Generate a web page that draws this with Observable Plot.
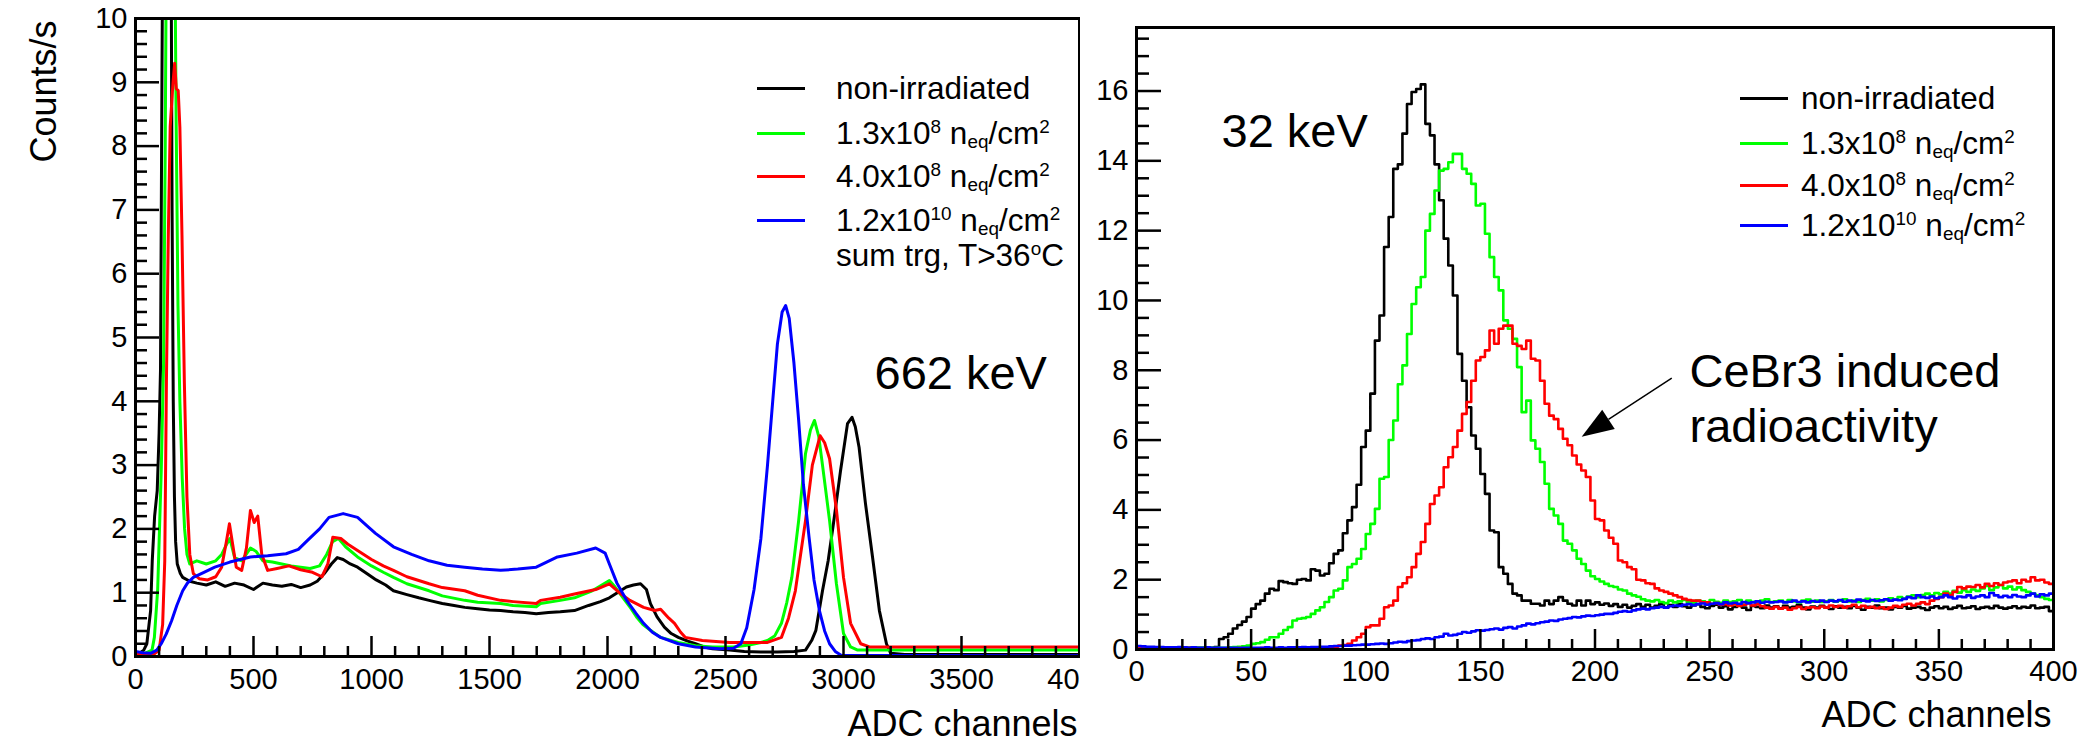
<!DOCTYPE html>
<html>
<head>
<meta charset="utf-8">
<script src="https://cdn.jsdelivr.net/npm/d3@7"></script>
<script src="https://cdn.jsdelivr.net/npm/@observablehq/plot@0.6"></script>
<style>
  html, body { margin: 0; padding: 0; background: #fff; }
  #wrap { position: relative; width: 2082px; height: 754px; overflow: hidden; background: #fff;
          font-family: "Liberation Sans", Arial, Helvetica, sans-serif; color: #000; }
  #left, #right { position: absolute; top: 0; }
  #left { left: 0; width: 1082px; }
  #right { left: 1080px; width: 1002px; }
  #left svg, #right svg { display: block; max-width: none; }
  .lg { position: absolute; font-size: 31.5px; line-height: 30px; white-space: nowrap; }
  .sw { position: absolute; height: 3px; width: 48px; }
  .sup { font-size: 0.6em; position: relative; top: -0.58em; }
  .sub { font-size: 0.6em; position: relative; top: 0.2em; }
</style>
</head>
<body>
<div id="wrap"><div id="left"></div><div id="right"></div><div id="legends"></div></div>
<script>
// ================= DATA =================
const seriesNames = ["non-irradiated", "1.3x10^8", "4.0x10^8", "1.2x10^10"];
const fluenceMantissa = [null, "1.3", "4.0", "1.2"];
const fluenceExponent = [null, "8", "8", "10"];
const seriesColors = ["#000000", "#00ff00", "#ff0000", "#0000ff"];

// ---- Left panel (662 keV): [ADC channel, counts/s] ----
const black662 = [[0,0.06],[20,0.06],[35,0.1],[48,0.2],[64,0.72],[71,1.5],[81,2.2],[92,2.6],[100,3.5],[106,4.5],[112,9],[118,13],[128,15],[140,15],[150,12],[155,7],[160,4],[165,2.5],[170,1.8],[177,1.45],[190,1.3],[200,1.24],[230,1.18],[260,1.15],[300,1.12],[340,1.17],[380,1.1],[420,1.15],[460,1.12],[500,1.05],[540,1.15],[580,1.12],[620,1.1],[660,1.13],[700,1.08],[740,1.12],[770,1.18],[800,1.3],[830,1.45],[855,1.55],[880,1.52],[910,1.45],[941,1.4],[980,1.3],[1020,1.2],[1060,1.12],[1093,1.03],[1150,0.97],[1200,0.92],[1244,0.88],[1300,0.83],[1350,0.8],[1395,0.77],[1450,0.75],[1500,0.73],[1547,0.72],[1600,0.7],[1650,0.69],[1698,0.67],[1750,0.69],[1800,0.7],[1860,0.72],[1920,0.8],[1970,0.86],[2008,0.92],[2050,1.02],[2080,1.09],[2110,1.12],[2140,1.14],[2165,1.05],[2182,0.83],[2210,0.62],[2241,0.46],[2270,0.36],[2300,0.3],[2340,0.24],[2373,0.2],[2410,0.15],[2445,0.12],[2517,0.1],[2580,0.08],[2650,0.07],[2720,0.07],[2790,0.08],[2839,0.1],[2865,0.25],[2883,0.41],[2911,1.03],[2935,1.5],[2958,2.1],[2987,2.9],[3017,3.65],[3036,3.75],[3050,3.6],[3066,3.28],[3093,2.4],[3123,1.56],[3152,0.72],[3182,0.2],[3200,0.05],[3260,0.03],[4000,0.03]];
const green662 = [[0,0.05],[40,0.05],[70,0.1],[80,0.3],[94,1.05],[109,2.9],[119,4.6],[126,8],[132,12],[150,15],[165,12],[172,8.5],[180,5.5],[188,4.0],[198,2.8],[208,2.0],[218,1.6],[230,1.45],[260,1.5],[300,1.45],[340,1.5],[365,1.6],[385,1.75],[400,1.85],[420,1.55],[450,1.5],[487,1.7],[510,1.65],[540,1.5],[580,1.48],[620,1.45],[660,1.42],[700,1.4],[740,1.38],[780,1.42],[810,1.6],[835,1.8],[860,1.85],[890,1.72],[941,1.56],[1000,1.42],[1050,1.32],[1093,1.24],[1150,1.14],[1244,1.03],[1300,0.95],[1395,0.88],[1450,0.85],[1547,0.83],[1600,0.8],[1698,0.78],[1716,0.83],[1800,0.88],[1860,0.92],[1930,1.02],[2008,1.19],[2030,1.1],[2066,0.92],[2100,0.75],[2123,0.62],[2150,0.5],[2182,0.41],[2225,0.3],[2300,0.22],[2373,0.17],[2445,0.15],[2534,0.15],[2600,0.18],[2650,0.22],[2678,0.25],[2708,0.32],[2737,0.52],[2760,0.85],[2781,1.24],[2810,2.13],[2839,3.18],[2860,3.55],[2877,3.7],[2895,3.45],[2911,3.0],[2941,2.13],[2970,1.14],[3000,0.36],[3030,0.15],[3060,0.1],[4000,0.1]];
const red662 = [[0,0.03],[80,0.04],[100,0.1],[115,0.5],[124,1.5],[131,4.3],[139,6.6],[147,8.3],[159,9.0],[166,9.3],[173,8.9],[181,8.87],[188,8.3],[197,6.6],[207,4.3],[218,2.5],[230,1.6],[245,1.3],[270,1.22],[306,1.2],[340,1.25],[365,1.4],[385,1.8],[398,2.08],[412,1.75],[427,1.4],[450,1.35],[470,1.7],[487,2.29],[503,2.1],[518,2.2],[535,1.6],[560,1.35],[600,1.38],[650,1.42],[700,1.36],[750,1.32],[790,1.25],[815,1.45],[836,1.87],[870,1.85],[900,1.76],[941,1.66],[1000,1.52],[1050,1.42],[1093,1.35],[1150,1.25],[1244,1.14],[1300,1.08],[1395,1.03],[1450,0.96],[1547,0.88],[1600,0.86],[1698,0.83],[1716,0.88],[1800,0.93],[1860,0.98],[1950,1.05],[2008,1.14],[2050,1.0],[2095,0.88],[2153,0.77],[2200,0.72],[2225,0.74],[2260,0.6],[2284,0.52],[2310,0.38],[2329,0.3],[2402,0.25],[2517,0.22],[2591,0.22],[2678,0.22],[2737,0.3],[2767,0.6],[2796,1.03],[2839,2.13],[2868,3.0],[2901,3.46],[2920,3.35],[2941,3.1],[2970,2.3],[3000,1.24],[3030,0.52],[3073,0.2],[3110,0.15],[4000,0.15]];
const blue662 = [[0,0.08],[30,0.06],[64,0.05],[90,0.1],[109,0.2],[130,0.35],[153,0.56],[175,0.8],[200,1.03],[220,1.15],[245,1.24],[290,1.32],[336,1.4],[400,1.48],[487,1.56],[560,1.58],[638,1.61],[690,1.68],[729,1.82],[780,2.0],[820,2.18],[880,2.24],[941,2.18],[980,2.05],[1017,1.93],[1093,1.72],[1170,1.6],[1244,1.5],[1320,1.43],[1395,1.4],[1470,1.37],[1547,1.35],[1620,1.37],[1698,1.4],[1788,1.56],[1870,1.62],[1950,1.7],[1990,1.62],[2008,1.45],[2040,1.15],[2081,0.88],[2120,0.68],[2153,0.52],[2190,0.38],[2225,0.3],[2300,0.2],[2373,0.15],[2475,0.12],[2534,0.13],[2565,0.2],[2590,0.45],[2621,1.05],[2650,1.85],[2678,3.0],[2700,4.0],[2720,4.9],[2740,5.4],[2755,5.5],[2770,5.3],[2790,4.6],[2810,3.7],[2830,2.7],[2854,1.87],[2875,1.2],[2898,0.72],[2920,0.4],[2941,0.2],[2965,0.08],[2990,0.02],[4000,0.01]];

// ---- Right panel (32 keV): histogram, bins of 2 ADC channels starting at 0 ----
const binWidth32 = 2;
const black32 = [0.08,0.07,0.06,0.06,0.05,0.05,0.05,0.05,0.05,0.06,
0.05,0.05,0.06,0.05,0.05,0.06,0.05,0.07,0.3,0.35,
0.45,0.6,0.7,0.8,0.93,1.17,1.3,1.4,1.6,1.74,
1.7,1.96,1.93,1.9,1.88,2.0,2.02,1.98,2.3,2.26,
2.12,2.17,2.47,2.74,2.84,3.33,3.7,4.08,4.72,5.8,
6.27,7.33,8.85,9.57,11.53,12.39,13.77,13.9,14.78,15.63,
15.97,16.06,16.19,15.06,14.73,13.9,12.87,11.77,11.0,10.14,
8.47,7.7,6.94,6.13,5.75,5.03,4.46,3.41,3.36,2.36,
2.17,1.88,1.6,1.55,1.4,1.4,1.31,1.31,1.26,1.4,
1.3,1.4,1.5,1.4,1.31,1.26,1.4,1.26,1.4,1.3,
1.35,1.28,1.32,1.25,1.3,1.22,1.28,1.2,1.25,1.3,
1.22,1.28,1.2,1.25,1.3,1.2,1.27,1.22,1.3,1.24,
1.2,1.26,1.3,1.22,1.18,1.25,1.28,1.2,1.24,1.15,
1.22,1.27,1.2,1.13,1.25,1.22,1.18,1.26,1.2,1.24,
1.18,1.25,1.2,1.22,1.27,1.2,1.15,1.23,1.2,1.25,
1.2,1.16,1.24,1.2,1.22,1.18,1.25,1.2,1.14,1.22,
1.2,1.26,1.18,1.2,1.15,1.22,1.2,1.25,1.17,1.2,
1.22,1.18,1.13,1.2,1.24,1.18,1.22,1.16,1.2,1.25,
1.18,1.2,1.24,1.16,1.2,1.22,1.18,1.25,1.2,1.17,
1.2,1.24,1.18,1.22,1.2,1.26,1.18,1.2,1.22,1.1];
const green32 = [0.05,0.05,0.04,0.05,0.05,0.04,0.05,0.05,0.05,0.05,
0.05,0.04,0.05,0.05,0.05,0.05,0.05,0.05,0.05,0.05,
0.06,0.07,0.08,0.09,0.11,0.16,0.18,0.21,0.28,0.35,
0.35,0.45,0.56,0.64,0.83,0.88,0.9,0.93,1.02,1.12,
1.21,1.36,1.5,1.69,1.74,1.98,2.36,2.45,2.6,2.88,
3.31,3.6,4.03,4.89,4.94,6.0,6.56,7.6,8.14,9.04,
9.9,10.38,10.67,12.0,12.48,13.15,13.72,13.77,13.96,14.2,
14.2,13.77,13.63,13.34,12.72,12.77,11.91,11.24,10.67,10.29,
9.43,9.19,8.9,8.09,6.8,7.13,5.99,5.75,5.37,4.75,
4.03,3.84,3.6,3.12,3.03,2.84,2.6,2.45,2.26,2.1,
2.02,1.95,1.88,1.82,1.79,1.72,1.69,1.6,1.55,1.51,
1.44,1.4,1.38,1.42,1.36,1.33,1.4,1.35,1.38,1.42,
1.36,1.33,1.4,1.38,1.35,1.42,1.37,1.34,1.4,1.36,
1.38,1.42,1.35,1.4,1.37,1.33,1.4,1.44,1.36,1.38,
1.4,1.36,1.42,1.38,1.35,1.4,1.43,1.37,1.4,1.36,
1.38,1.42,1.37,1.4,1.44,1.38,1.4,1.36,1.42,1.45,
1.4,1.44,1.38,1.42,1.47,1.43,1.5,1.46,1.52,1.55,
1.5,1.56,1.6,1.55,1.62,1.58,1.65,1.6,1.68,1.63,
1.7,1.65,1.72,1.68,1.75,1.82,1.7,1.78,1.85,1.75,
1.8,1.72,1.78,1.7,1.65,1.6,1.55,1.5,1.45,1.42];
const red32 = [0.04,0.03,0.03,0.04,0.03,0.03,0.04,0.03,0.03,0.03,
0.03,0.04,0.03,0.03,0.03,0.04,0.03,0.03,0.03,0.03,
0.03,0.03,0.04,0.03,0.03,0.03,0.03,0.04,0.03,0.03,
0.03,0.04,0.03,0.03,0.04,0.03,0.04,0.04,0.03,0.04,
0.04,0.05,0.06,0.08,0.11,0.13,0.16,0.26,0.35,0.45,
0.64,0.69,0.69,0.88,1.21,1.26,1.4,1.79,1.9,2.07,
2.36,2.74,3.08,3.6,4.17,4.41,4.65,5.22,5.51,5.8,
6.27,6.75,7.09,7.7,8.28,8.38,8.57,9.14,8.76,9.19,
9.28,9.28,8.76,8.7,8.61,8.85,8.33,8.28,7.7,7.04,
6.7,6.6,6.32,6.04,5.85,5.56,5.3,5.13,4.94,4.27,
3.74,3.7,3.41,3.2,3.03,2.55,2.5,2.36,2.3,2.0,
1.98,1.9,1.88,1.75,1.69,1.65,1.6,1.55,1.5,1.45,
1.42,1.4,1.4,1.35,1.35,1.31,1.33,1.28,1.3,1.26,
1.3,1.25,1.28,1.32,1.26,1.3,1.24,1.2,1.17,1.22,
1.17,1.2,1.14,1.18,1.22,1.16,1.2,1.21,1.18,1.23,
1.2,1.26,1.22,1.25,1.2,1.24,1.28,1.21,1.25,1.2,
1.22,1.18,1.21,1.16,1.2,1.25,1.22,1.28,1.31,1.26,
1.31,1.35,1.3,1.4,1.45,1.5,1.6,1.55,1.65,1.79,
1.75,1.8,1.79,1.85,1.78,1.88,1.82,1.9,1.85,1.92,
1.95,1.98,1.9,2.0,1.95,2.07,1.98,2.0,1.92,1.88];
const blue32 = [0.1,0.09,0.08,0.08,0.07,0.07,0.06,0.06,0.06,0.07,
0.06,0.05,0.06,0.05,0.05,0.06,0.05,0.05,0.05,0.05,
0.05,0.05,0.04,0.05,0.05,0.05,0.05,0.05,0.06,0.05,
0.05,0.06,0.05,0.06,0.06,0.06,0.07,0.06,0.07,0.07,
0.08,0.08,0.09,0.1,0.1,0.11,0.11,0.12,0.13,0.14,
0.14,0.15,0.16,0.17,0.16,0.18,0.2,0.22,0.21,0.24,
0.26,0.27,0.3,0.32,0.3,0.35,0.37,0.45,0.4,0.42,
0.45,0.5,0.48,0.52,0.55,0.54,0.56,0.58,0.6,0.57,
0.62,0.64,0.6,0.66,0.69,0.74,0.72,0.75,0.78,0.8,
0.83,0.82,0.86,0.88,0.9,0.93,0.92,0.95,0.97,0.96,
0.98,1.0,1.02,1.02,1.05,1.08,1.1,1.08,1.12,1.15,
1.17,1.15,1.18,1.2,1.22,1.2,1.24,1.26,1.25,1.28,
1.3,1.27,1.3,1.32,1.28,1.31,1.33,1.3,1.35,1.32,
1.34,1.31,1.36,1.33,1.35,1.38,1.34,1.37,1.35,1.36,
1.38,1.35,1.37,1.4,1.36,1.38,1.35,1.39,1.37,1.4,
1.36,1.4,1.38,1.42,1.37,1.4,1.38,1.43,1.4,1.38,
1.42,1.39,1.41,1.44,1.4,1.43,1.41,1.45,1.5,1.47,
1.55,1.5,1.48,1.52,1.47,1.5,1.55,1.5,1.46,1.52,
1.5,1.55,1.48,1.52,1.55,1.5,1.62,1.55,1.5,1.54,
1.5,1.56,1.52,1.5,1.55,1.6,1.52,1.58,1.55,1.6];

// ---- Axes & annotations ----
const xTicks662 = [0, 500, 1000, 1500, 2000, 2500, 3000, 3500, 4000];
const yTicks662 = [0, 1, 2, 3, 4, 5, 6, 7, 8, 9, 10];
const xTicks32 = [0, 50, 100, 150, 200, 250, 300, 350, 400];
const yTicks32 = [0, 2, 4, 6, 8, 10, 12, 14, 16];
const xTitle = "ADC channels";
const yTitle = "Counts/s";
const label662 = "662 keV";
const label32 = "32 keV";
const noteLines = ["CeBr3 induced", "radioactivity"];
const noteArrowFrom = [233.7, 7.76];   // data coords (channel, counts/s)
const noteArrowTo = [194.4, 6.08];
const extraLegendNote = "sum trg, T>36";

// ================= BUILD =================
const FONT = "'Liberation Sans', Arial, Helvetica, sans-serif";
const minorOf = (start, stop, step, majors) =>
  d3.range(start, stop + step / 2, step).map(v => +v.toFixed(4)).filter(v => !majors.includes(v));

function makePanel(cfg) {
  const innerW = cfg.width - cfg.ml - cfg.mr;
  const innerH = cfg.height - cfg.mt - cfg.mb;
  return Plot.plot({
    width: cfg.width, height: cfg.height,
    marginLeft: cfg.ml, marginRight: cfg.mr, marginTop: cfg.mt, marginBottom: cfg.mb,
    style: {background: "white", fontFamily: FONT, fontSize: "29px", color: "black", overflow: "visible"},
    x: {domain: cfg.xDomain, ticks: cfg.xMajor, tickSize: 0, tickPadding: cfg.xPad, tickFormat: d => String(d), label: null},
    y: {domain: cfg.yDomain, ticks: cfg.yMajor, tickSize: 0, tickPadding: cfg.yPad, tickFormat: d => String(d), label: null},
    marks: [
      ...cfg.lines,
      Plot.ruleX(cfg.xMinor, {insetTop: innerH - cfg.xMinorLen, strokeWidth: 2.5}),
      Plot.ruleX(cfg.xMajor, {insetTop: innerH - cfg.xMajorLen, strokeWidth: 2.5}),
      Plot.ruleY(cfg.yMinor, {insetRight: innerW - cfg.yMinorLen, strokeWidth: 2.5}),
      Plot.ruleY(cfg.yMajor, {insetRight: innerW - cfg.yMajorLen, strokeWidth: 2.5}),
      Plot.frame({stroke: "black", strokeWidth: 3}),
      ...cfg.extras
    ]
  });
}

// Left panel
const leftSeries = [black662, green662, red662, blue662];
const leftPlot = makePanel({
  width: 1082, height: 754, ml: 135, mr: 3, mt: 18, mb: 98,
  xDomain: [0, 4000], yDomain: [0, 10],
  xMajor: xTicks662, xMinor: minorOf(0, 4000, 100, xTicks662),
  yMajor: yTicks662, yMinor: minorOf(0, 10, 0.2, yTicks662),
  xMajorLen: 20, xMinorLen: 10, yMajorLen: 24, yMinorLen: 12,
  xPad: 12, yPad: 8,
  lines: leftSeries.map((s, i) => Plot.line(s, {x: d => d[0], y: d => d[1], stroke: seriesColors[i], strokeWidth: 3, clip: true})),
  extras: [
    Plot.text([xTitle], {frameAnchor: "bottom-right", dx: -2, dy: 79, textAnchor: "end", fontSize: 36}),
    Plot.text([yTitle], {frameAnchor: "top-left", dx: -105, dy: 73, rotate: -90, textAnchor: "middle", fontSize: 36}),
    Plot.text([label662], {frameAnchor: "top-left", dx: 739, dy: 337, textAnchor: "start", fontSize: 47})
  ]
});
document.getElementById("left").appendChild(leftPlot);

// Right panel
const binRows = vals => {
  const rows = vals.map((v, i) => ({x: i * binWidth32, y: v}));
  rows.push({x: vals.length * binWidth32, y: vals[vals.length - 1]});
  return rows;
};
const rightSeries = [black32, green32, red32, blue32];

function arrowMark(from, to) {
  return (index, scales) => {
    const ns = "http://www.w3.org/2000/svg";
    const g = document.createElementNS(ns, "g");
    const x1 = scales.x(from[0]), y1 = scales.y(from[1]);
    const x2 = scales.x(to[0]), y2 = scales.y(to[1]);
    const len = Math.hypot(x2 - x1, y2 - y1);
    const ux = (x2 - x1) / len, uy = (y2 - y1) / len;
    const headL = 32, headW = 11.5;
    const bx = x2 - ux * headL, by = y2 - uy * headL;
    const line = document.createElementNS(ns, "line");
    line.setAttribute("x1", x1); line.setAttribute("y1", y1);
    line.setAttribute("x2", bx); line.setAttribute("y2", by);
    line.setAttribute("stroke", "black"); line.setAttribute("stroke-width", 1.5);
    const poly = document.createElementNS(ns, "polygon");
    poly.setAttribute("points", `${x2},${y2} ${bx - uy * headW},${by + ux * headW} ${bx + uy * headW},${by - ux * headW}`);
    poly.setAttribute("fill", "black");
    g.appendChild(line); g.appendChild(poly);
    return g;
  };
}

const rightPlot = makePanel({
  width: 1002, height: 754, ml: 56, mr: 29, mt: 27, mb: 105,
  xDomain: [0, 400], yDomain: [0, 17.82],
  xMajor: xTicks32, xMinor: minorOf(0, 400, 10, xTicks32),
  yMajor: yTicks32, yMinor: minorOf(0, 17.5, 0.5, yTicks32),
  xMajorLen: 20, xMinorLen: 10, yMajorLen: 25, yMinorLen: 13,
  xPad: 11, yPad: 8,
  lines: rightSeries.map((s, i) => Plot.line(binRows(s), {x: "x", y: "y", curve: "step-after", stroke: seriesColors[i], strokeWidth: 2.6, clip: true})),
  extras: [
    Plot.text([xTitle], {frameAnchor: "bottom-right", dx: -2, dy: 77, textAnchor: "end", fontSize: 36}),
    Plot.text([label32], {frameAnchor: "top-left", dx: 85, dy: 86, textAnchor: "start", fontSize: 47}),
    Plot.text([noteLines[0]], {frameAnchor: "top-left", dx: 553, dy: 326, textAnchor: "start", fontSize: 47}),
    Plot.text([noteLines[1]], {frameAnchor: "top-left", dx: 553, dy: 381, textAnchor: "start", fontSize: 47}),
    arrowMark(noteArrowFrom, noteArrowTo)
  ]
});
document.getElementById("right").appendChild(rightPlot);

// Legends (HTML overlay); the last entry of the left legend carries a second line.
function legendLabel(i) {
  if (fluenceMantissa[i] === null) return seriesNames[i];
  return `${fluenceMantissa[i]}x10<span class="sup">${fluenceExponent[i]}</span> n<span class="sub">eq</span>/cm<span class="sup">2</span>`;
}
function buildLegend(lineX, textX, rowYs, extraLine) {
  let html = "";
  rowYs.forEach((y, i) => {
    html += `<div class="sw" style="left:${lineX}px;top:${y - 1.5}px;background:${seriesColors[i]}"></div>`;
    const label = legendLabel(i) + (extraLine && i === rowYs.length - 1 ? `<br>${extraLine}` : "");
    html += `<div class="lg" style="left:${textX}px;top:${y - 14.6}px">${label}</div>`;
  });
  return html;
}
document.getElementById("legends").innerHTML =
  buildLegend(757, 836, [88, 133, 176, 220], `${extraLegendNote}<span class="sup">o</span>C`) +
  buildLegend(1740, 1801, [98, 143, 185, 225], null);
</script>
</body>
</html>
